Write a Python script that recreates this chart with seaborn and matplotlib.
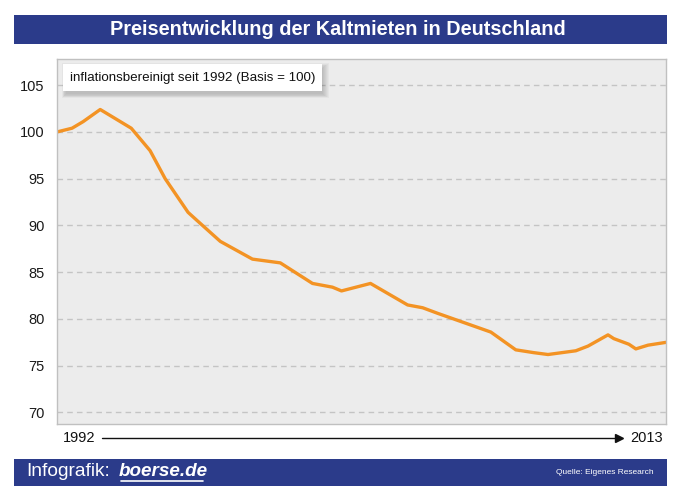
from matplotlib import pyplot as plt
from matplotlib.patches import Rectangle
import seaborn as sns
import pandas as pd

# Werte (Jahr, Index 1992 = 100)
years = [1992.0, 1992.52, 1992.9, 1993.49, 1994.56, 1995.21, 1995.73, 1996.52,
         1996.84, 1997.63, 1998.74, 1999.7, 2000.81, 2001.5, 2001.81, 2002.81,
         2004.09, 2004.61, 2005.13, 2006.96, 2007.82, 2008.44, 2008.93, 2009.89,
         2010.31, 2011.0, 2011.2, 2011.72, 2011.96, 2012.38, 2013.0]
index = [100.0, 100.4, 101.1, 102.4, 100.4, 98.0, 95.0, 91.4,
         90.5, 88.3, 86.4, 86.0, 83.8, 83.4, 83.0, 83.8,
         81.5, 81.2, 80.6, 78.6, 76.7, 76.4, 76.2, 76.6,
         77.1, 78.3, 77.9, 77.3, 76.8, 77.2, 77.5]
y_ticks = [70, 75, 80, 85, 90, 95, 100, 105]

df = pd.DataFrame({"Jahr": years, "Index": index})

sns.set_style("white")
plt.rcParams["font.family"] = ["Liberation Sans", "DejaVu Sans"]

BLUE = "#2b3b8a"
ORANGE = "#f39324"
W, H = 681, 499


def box(x0, y_top, w, h):
    # Pixelangaben (von oben gemessen) -> Figurenkoordinaten
    return (x0 / W, (H - y_top - h) / H), w / W, h / H


fig = plt.figure(figsize=(6.81, 4.99), dpi=100)
ax = fig.add_axes([57 / W, 75 / H, 609 / W, 365 / H])
ax.set_facecolor("#ececec")

sns.lineplot(data=df, x="Jahr", y="Index", color=ORANGE, linewidth=2.4, ax=ax)

ax.set_xlim(1992, 2013)
ax.set_ylim(68.77, 107.8)
ax.set_yticks(y_ticks)
ax.set_xticks([])
ax.set_xlabel("")
ax.set_ylabel("")
ax.tick_params(axis="y", length=0, pad=9, labelsize=10.5, labelcolor="#1a1a1a")
ax.grid(axis="y", color="#c4c4c4", linestyle=(0, (4, 3)), linewidth=1)
ax.set_axisbelow(True)
for s in ax.spines.values():
    s.set_color("#c0c0c0")
    s.set_linewidth(1)

# Hinweisbox mit weichem Schatten
for i in range(7):
    xy, w, h = box(63 - 1 + i * 0.6, 64 - 1 + i * 0.8, 259 + 8 - i * 1.6, 27 + 8 - i * 1.4)
    ax.add_patch(Rectangle(xy, w, h, transform=fig.transFigure, facecolor="#444444",
                           edgecolor="none", alpha=0.045, zorder=5))
xy, w, h = box(63, 64, 259, 27)
ax.add_patch(Rectangle(xy, w, h, transform=fig.transFigure, facecolor="white",
                       edgecolor="none", zorder=6))
fig.text(70 / W, (H - 77.5) / H, "inflationsbereinigt seit 1992 (Basis = 100)",
         fontsize=9.6, color="#111111", va="center", ha="left", zorder=7)

# Titelbalken
xy, w, h = box(14, 15, 653, 29)
fig.patches.append(Rectangle(xy, w, h, transform=fig.transFigure, facecolor=BLUE,
                             edgecolor="none"))
fig.text(338 / W, (H - 29.5) / H, "Preisentwicklung der Kaltmieten in Deutschland",
         color="white", fontsize=14.3, fontweight="bold", ha="center", va="center")

# Zeitachse
fig.text(63 / W, (H - 438) / H, "1992", fontsize=10.5, color="#111111", ha="left", va="center")
fig.text(663 / W, (H - 438) / H, "2013", fontsize=10.5, color="#111111", ha="right",
         va="center")
fig.add_artist(plt.Line2D([102 / W, 618 / W], [(H - 438) / H] * 2,
                          transform=fig.transFigure, color="#111111", linewidth=1))
fig.add_artist(plt.Line2D([619 / W], [(H - 438) / H], transform=fig.transFigure,
                          marker=">", markersize=6, color="#111111"))

# Fußzeile
xy, w, h = box(14, 459, 653, 27)
fig.patches.append(Rectangle(xy, w, h, transform=fig.transFigure, facecolor=BLUE,
                             edgecolor="none"))
fig.text(26 / W, (H - 472) / H, "Infografik:", color="white", fontsize=13.8,
         ha="left", va="center")
fig.text(119 / W, (H - 472) / H, "boerse.de", color="white", fontsize=13.6,
         fontweight="bold", style="italic", ha="left", va="center")
fig.add_artist(plt.Line2D([121 / W, 203 / W], [(H - 481) / H] * 2,
                          transform=fig.transFigure, color="white", linewidth=1.2))
fig.text(654 / W, (H - 473) / H, "Quelle: Eigenes Research", color="white", fontsize=6,
         ha="right", va="center")

fig.savefig("out.png", dpi=100)
